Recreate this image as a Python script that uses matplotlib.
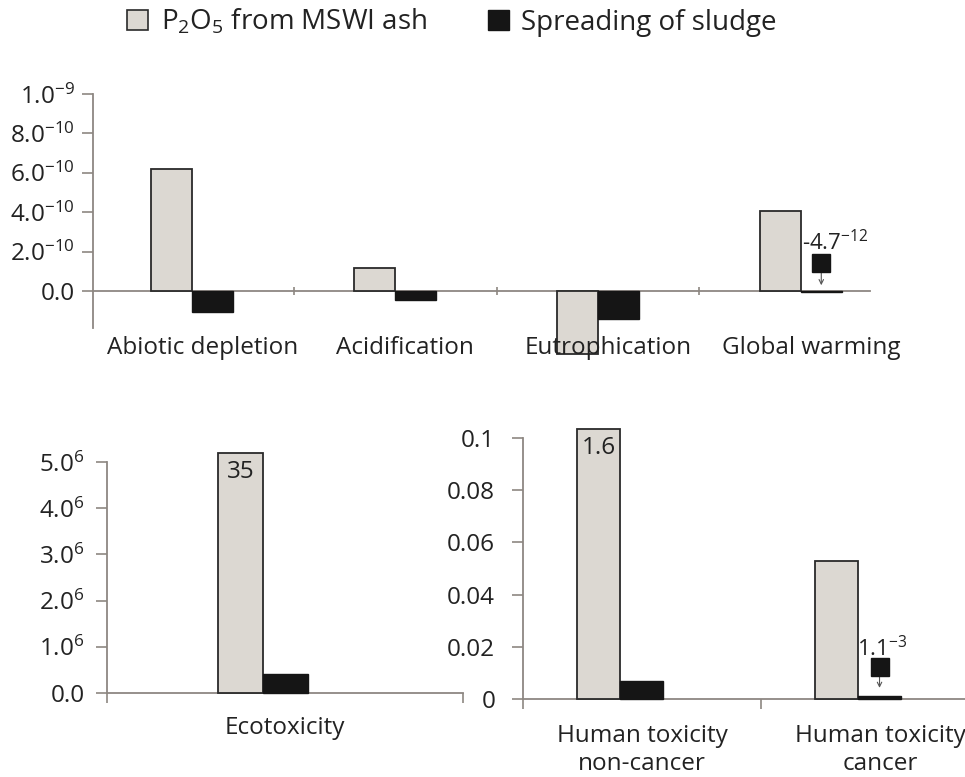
import numpy as np
import matplotlib
matplotlib.use("Agg")
import matplotlib.pyplot as plt
from matplotlib.patches import Patch
from matplotlib.transforms import blended_transform_factory

plt.rcParams['font.family'] = ['Open Sans', 'DejaVu Sans']
plt.rcParams['mathtext.default'] = 'regular'

# ---- data ----
top_categories = ["Abiotic depletion", "Acidification", "Eutrophication", "Global warming"]
top_ash = [6.2e-10, 1.17e-10, -3.2e-10, 4.07e-10]
top_sludge = [-1.07e-10, -0.46e-10, -1.42e-10, -4.7e-12]
top_ticks = [0, 2e-10, 4e-10, 6e-10, 8e-10, 1e-9]
top_ticklabels = ["0.0", "2.0$^{-10}$", "4.0$^{-10}$", "6.0$^{-10}$", "8.0$^{-10}$", "1.0$^{-9}$"]

eco_categories = ["Ecotoxicity"]
eco_ash = [5.19e6]
eco_sludge = [0.41e6]
eco_ticks = [0, 1e6, 2e6, 3e6, 4e6, 5e6]
eco_ticklabels = ["0.0", "1.0$^{6}$", "2.0$^{6}$", "3.0$^{6}$", "4.0$^{6}$", "5.0$^{6}$"]

ht_categories = ["Human toxicity\nnon-cancer", "Human toxicity\ncancer"]
ht_ash = [0.1034, 0.0529]
ht_sludge = [0.0069, 0.0011]
ht_ticks = [0, 0.02, 0.04, 0.06, 0.08, 0.1]
ht_ticklabels = ["0", "0.02", "0.04", "0.06", "0.08", "0.1"]

series_names = ["P$_2$O$_5$ from MSWI ash", "Spreading of sludge"]

GREY = "#dcd8d2"
BLACK = "#151515"
EDGE = "#2a2a2a"
SPINE = "#8d8782"
TXT = "#222222"
FS = 17.5


def draw_pairs(ax, ash, sludge, width, offset):
    x = np.arange(len(ash)) + offset
    b1 = ax.bar(x - width / 2, ash, width, color=GREY, edgecolor=EDGE, lw=1.3, clip_on=False, zorder=3)
    b2 = ax.bar(x + width / 2, sludge, width, color=BLACK, edgecolor=BLACK, lw=1.0, clip_on=False, zorder=3)
    return b1, b2


def style_axis(ax, ticks, ticklabels, pad):
    for s in ["top", "right"]:
        ax.spines[s].set_visible(False)
    for s in ["left", "bottom"]:
        ax.spines[s].set_color(SPINE)
        ax.spines[s].set_linewidth(1.3)
    ax.set_yticks(ticks)
    ax.set_yticklabels(ticklabels, fontsize=FS, color=TXT)
    ax.tick_params(axis="y", length=8, width=1.2, color=SPINE, pad=pad)
    ax.tick_params(axis="x", labelbottom=False, color=SPINE, width=1.2)


def cat_labels(ax, labels, ypos):
    tr = blended_transform_factory(ax.transData, ax.transAxes)
    for i, lab in enumerate(labels):
        ax.text(i, ypos, lab, transform=tr, ha="center", va="center", fontsize=FS, color=TXT,
                linespacing=1.25)


fig = plt.figure(figsize=(9.65, 7.77), dpi=100)

# ---- top panel ----
ax1 = fig.add_axes([93 / 965, 1 - 328 / 777, 777 / 965, 234 / 777])
w = 0.2
b1, b2 = draw_pairs(ax1, top_ash, top_sludge, w, 0)
ax1.set_xlim(-0.488, 3.34)
ax1.set_ylim(-1.88e-10, 1.0e-9)
style_axis(ax1, top_ticks, top_ticklabels, 5)
ax1.spines["bottom"].set_position(("data", 0))
ax1.set_xticks([0.5, 1.5, 2.5])
ax1.tick_params(axis="x", direction="inout", length=6)
tr1 = blended_transform_factory(ax1.transData, ax1.transAxes)
for i, lab in enumerate(top_categories):
    ax1.text(i + 0.05, -0.085, lab, transform=tr1, ha="center", va="center", fontsize=FS, color=TXT)
# off-scale value note for global warming sludge
gx = 3 + w / 2
ax1.plot(gx, 1.42e-10, marker="s", markersize=13, color=BLACK, zorder=4)
ax1.annotate("", xy=(gx, 0.15e-10), xytext=(gx, 1.05e-10),
             arrowprops=dict(arrowstyle="->", color="#555555", lw=0.8, mutation_scale=8))
ax1.text(3 + 0.005, 2.45e-10, "-4.7$^{-12}$", fontsize=16, color=TXT, ha="left", va="center")

# ---- bottom left: ecotoxicity ----
ax2 = fig.add_axes([107 / 965, 1 - 693 / 777, 356 / 965, 231 / 777])
w2 = 0.126
draw_pairs(ax2, eco_ash, eco_sludge, w2, -0.062)
ax2.set_xlim(-0.5, 0.5)
ax2.set_ylim(0, 5e6)
style_axis(ax2, eco_ticks, eco_ticklabels, 8)
ax2.set_xticks([-0.5, 0.5])
ax2.tick_params(axis="x", direction="out", length=7)
cat_labels(ax2, eco_categories, -0.15)
ax2.text(-0.062 - w2 / 2, 4.78e6, "35", fontsize=FS, color=TXT, ha="center", va="center")

# ---- bottom right: human toxicity ----
ax3 = fig.add_axes([523 / 965, 1 - 699 / 777, 476 / 965, 261 / 777])
w3 = 0.18
draw_pairs(ax3, ht_ash, ht_sludge, w3, -0.092)
ax3.set_xlim(-0.5, 1.5)
ax3.set_ylim(0, 0.1)
style_axis(ax3, ht_ticks, ht_ticklabels, 12)
ax3.set_xticks([-0.5, 0.5, 1.5])
ax3.tick_params(axis="x", direction="out", length=7)
cat_labels(ax3, ht_categories, -0.195)
ax3.text(-0.092 - w3 / 2, 0.0962, "1.6", fontsize=FS, color=TXT, ha="center", va="center")
hx = 1 - 0.092 + w3 / 2
ax3.plot(hx, 0.0123, marker="s", markersize=12.5, color=BLACK, zorder=4)
ax3.annotate("", xy=(hx, 0.0032), xytext=(hx, 0.0098),
             arrowprops=dict(arrowstyle="->", color="#555555", lw=0.8, mutation_scale=8))
ax3.text(hx + 0.01, 0.0195, "1.1$^{-3}$", fontsize=16, color=TXT, ha="center", va="center")

# ---- legend ----
handles = [Patch(facecolor=GREY, edgecolor=EDGE, lw=1.2), Patch(facecolor=BLACK, edgecolor=BLACK)]
fig.legend(handles, series_names, loc="center", bbox_to_anchor=(452 / 965, 1 - 22 / 777), ncol=2,
           frameon=False, fontsize=20, handlelength=0.75, handleheight=0.75, handletextpad=0.45,
           columnspacing=2.2, labelcolor=TXT)

fig.savefig("out.png", dpi=100)
